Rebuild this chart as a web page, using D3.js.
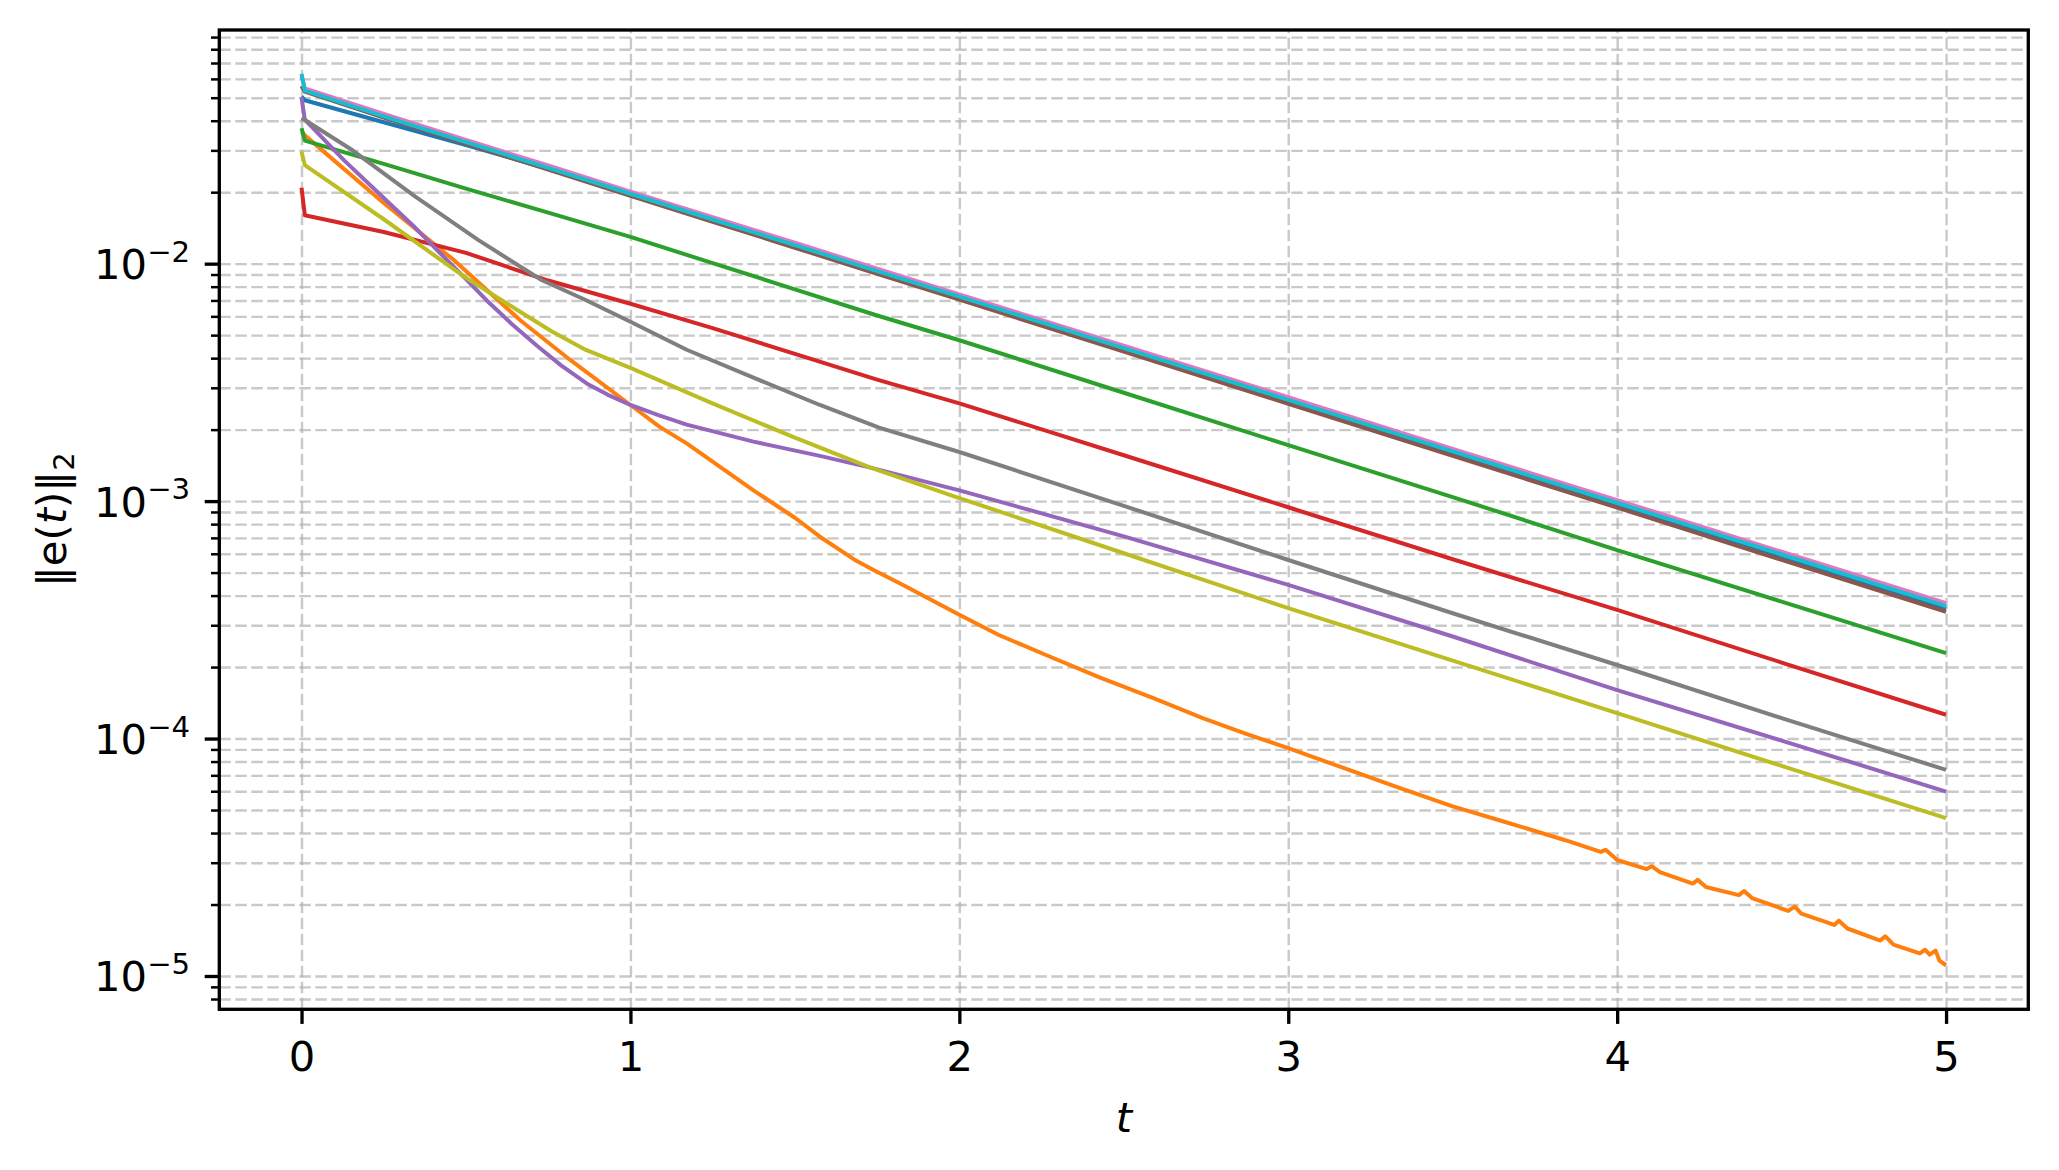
<!DOCTYPE html>
<html><head><meta charset="utf-8">
<script src="https://cdn.jsdelivr.net/npm/d3@7"></script>
<style>
body{margin:0;background:#fff;}
svg{display:block;}
text{font-family:"DejaVu Sans",sans-serif;fill:#000;}
</style>
</head><body>
<svg id="chart" width="2059" height="1170"></svg>
<script>
// ---- data ----
const tGrid = [0, 0.01, 0.25, 0.5, 0.75, 1, 1.25, 1.5, 1.75, 2, 2.5, 3, 3.5, 4, 4.5, 5];

const seriesBlue   = [0.0505, 0.0488, 0.0394, 0.0316, 0.0251, 0.0195, 0.01517, 0.0118, 0.00918, 0.00714, 0.00433, 0.00262, 0.00158, 9.59e-4, 5.81e-4, 3.52e-4];
const seriesGreen  = [0.0372, 0.0330, 0.0263, 0.0207, 0.0164, 0.01297, 0.01005, 0.0078, 0.00605, 0.00476, 0.00286, 0.00172, 0.00104, 6.22e-4, 3.77e-4, 2.29e-4];
const seriesRed    = [0.0209, 0.0160, 0.0136, 0.0111, 0.00849, 0.00678, 0.00535, 0.00417, 0.00325, 0.00258, 0.00156, 9.42e-4, 5.69e-4, 3.48e-4, 2.09e-4, 1.26e-4];
const seriesBrown  = [0.056, 0.0530, 0.0412, 0.0320, 0.0249, 0.0193, 0.0150, 0.01167, 0.00907, 0.00705, 0.00426, 0.00257, 0.00155, 9.38e-4, 5.66e-4, 3.42e-4];
const seriesPink   = [0.062, 0.0547, 0.0427, 0.0332, 0.0259, 0.0201, 0.0157, 0.01225, 0.00953, 0.00743, 0.00451, 0.00274, 0.00166, 0.00101, 6.12e-4, 3.72e-4];
const seriesCyan   = [0.063, 0.0536, 0.0417, 0.0325, 0.0253, 0.0197, 0.01535, 0.01197, 0.00931, 0.00726, 0.00441, 0.00267, 0.00162, 9.82e-4, 5.96e-4, 3.61e-4];

const tPurple = [0, 0.01, 0.128, 0.25, 0.346, 0.421, 0.5, 0.563, 0.64, 0.715, 0.79, 0.867, 0.93, 1.0, 1.085, 1.171, 1.374, 1.576, 1.73, 2.0, 2.5, 3, 3.5, 4, 4.5, 5];
const seriesPurple = [0.0502, 0.0404, 0.02735, 0.0189, 0.01416, 0.01109, 0.00861, 0.0070, 0.00556, 0.00452, 0.00372, 0.00313, 0.00281, 0.00254, 0.0023, 0.0021, 0.00178, 0.00155, 0.001384, 0.00111, 7.1e-4, 4.44e-4, 2.69e-4, 1.60e-4, 9.8e-5, 5.98e-5];

const tGray = [0, 0.01, 0.154, 0.346, 0.538, 0.731, 0.859, 1.0, 1.171, 1.374, 1.576, 1.756, 2.0, 2.5, 3, 3.5, 4, 4.5, 5];
const seriesGray = [0.0410, 0.0403, 0.0301, 0.01914, 0.01256, 0.00851, 0.00708, 0.00569, 0.00434, 0.00331, 0.00254, 0.00204, 0.00161, 9.55e-4, 5.65e-4, 3.37e-4, 2.04e-4, 1.22e-4, 7.38e-5];

const tOlive = [0, 0.01, 0.25, 0.5, 0.667, 0.76, 0.859, 1.0, 1.244, 1.5, 1.73, 2.0, 2.5, 3, 3.5, 4, 4.5, 5];
const seriesOlive = [0.0296, 0.0260, 0.01538, 0.00871, 0.00624, 0.00519, 0.00437, 0.00364, 0.0026, 0.00185, 0.001384, 0.00103, 6.03e-4, 3.54e-4, 2.13e-4, 1.28e-4, 7.67e-5, 4.62e-5];

const tOrange = [0, 0.01, 0.25, 0.462, 0.664, 0.816, 1.0, 1.09, 1.171, 1.374, 1.5, 1.576, 1.68, 1.739, 1.82, 2.0, 2.12, 2.276, 2.43, 2.59, 2.74, 2.87, 3.0, 3.17, 3.34, 3.5, 3.67, 3.84, 3.95, 3.965, 4.0, 4.09, 4.105, 4.13, 4.23, 4.245, 4.27, 4.37, 4.386, 4.41, 4.52, 4.54, 4.56, 4.66, 4.674, 4.70, 4.80, 4.815, 4.84, 4.92, 4.936, 4.95, 4.968, 4.98, 5.0];
const seriesOrange = [0.0360, 0.0347, 0.0180, 0.01038, 0.00579, 0.00394, 0.00254, 0.00205, 0.00175, 0.00111, 8.51e-4, 7.08e-4, 5.68e-4, 5.13e-4, 4.50e-4, 3.32e-4, 2.73e-4, 2.21e-4, 1.80e-4, 1.48e-4, 1.22e-4, 1.05e-4, 9.12e-5, 7.50e-5, 6.18e-5, 5.18e-5, 4.41e-5, 3.74e-5, 3.33e-5, 3.40e-5, 3.08e-5, 2.82e-5, 2.90e-5, 2.74e-5, 2.45e-5, 2.54e-5, 2.37e-5, 2.19e-5, 2.28e-5, 2.13e-5, 1.88e-5, 1.96e-5, 1.83e-5, 1.64e-5, 1.71e-5, 1.585e-5, 1.41e-5, 1.47e-5, 1.355e-5, 1.245e-5, 1.29e-5, 1.23e-5, 1.28e-5, 1.16e-5, 1.11e-5];

const xTicks = [0, 1, 2, 3, 4, 5];
const yMajorTicks = [1e-5, 1e-4, 1e-3, 1e-2];
const yTickExponents = ["\u22125", "\u22124", "\u22123", "\u22122"];
const yMinorTicks = [8e-6, 9e-6,
  2e-5, 3e-5, 4e-5, 5e-5, 6e-5, 7e-5, 8e-5, 9e-5,
  2e-4, 3e-4, 4e-4, 5e-4, 6e-4, 7e-4, 8e-4, 9e-4,
  2e-3, 3e-3, 4e-3, 5e-3, 6e-3, 7e-3, 8e-3, 9e-3,
  2e-2, 3e-2, 4e-2, 5e-2, 6e-2, 7e-2, 8e-2, 9e-2];

const palette = ["#1f77b4", "#ff7f0e", "#2ca02c", "#d62728", "#9467bd", "#8c564b", "#e377c2", "#7f7f7f", "#bcbd22", "#17becf"];

// draw order C0..C9
const seriesList = [
  {t: tGrid, v: seriesBlue},
  {t: tOrange, v: seriesOrange},
  {t: tGrid, v: seriesGreen},
  {t: tGrid, v: seriesRed},
  {t: tPurple, v: seriesPurple},
  {t: tGrid, v: seriesBrown},
  {t: tGrid, v: seriesPink},
  {t: tGray, v: seriesGray},
  {t: tOlive, v: seriesOlive},
  {t: tGrid, v: seriesCyan}
];

// ---- layout ----
const L = 219.3, R = 2028.3, T = 30, B = 1009.3;
const FS = 41.67;
const svg = d3.select("#chart");
svg.append("rect").attr("width", 2059).attr("height", 1170).attr("fill", "#fff");

const x = d3.scaleLinear().domain([-0.25, 5.25]).range([L, R]);
const y = d3.scaleLog().domain([7.24e-6, 0.0964]).range([B, T]);

// ---- grid ----
const gridStyle = g => {
  g.select(".domain").remove();
  g.selectAll("line").attr("stroke", "#b0b0b0").attr("stroke-opacity", 0.68)
    .attr("stroke-width", 2.4).attr("stroke-dasharray", "11.5 4.5");
  g.selectAll("text").remove();
};
svg.append("g").attr("transform", `translate(${L},0)`)
  .call(d3.axisLeft(y).tickValues(yMinorTicks.concat(yMajorTicks)).tickSize(-(R - L)).tickFormat(""))
  .call(gridStyle);
svg.append("g").attr("transform", `translate(0,${B})`)
  .call(d3.axisBottom(x).tickValues(xTicks).tickSize(-(B - T)).tickFormat(""))
  .call(gridStyle);

// ---- lines ----
svg.append("clipPath").attr("id", "clip").append("rect")
  .attr("x", L).attr("y", T).attr("width", R - L).attr("height", B - T);
const lineGen = d3.line().x(d => x(d[0])).y(d => y(d[1]));
const gLines = svg.append("g").attr("clip-path", "url(#clip)");
seriesList.forEach((s, i) => {
  const pts = s.t.map((tv, k) => [tv, s.v[k]]);
  gLines.append("path").datum(pts)
    .attr("d", lineGen)
    .attr("fill", "none")
    .attr("stroke", palette[i])
    .attr("stroke-width", 4.0)
    .attr("stroke-linejoin", "round")
    .attr("stroke-linecap", "butt");
});

// ---- spines ----
svg.append("rect").attr("x", L).attr("y", T).attr("width", R - L).attr("height", B - T)
  .attr("fill", "none").attr("stroke", "#000").attr("stroke-width", 3.33);

// ---- ticks ----
const tickStyle = (g, w) => {
  g.select(".domain").remove();
  g.selectAll("line").attr("stroke", "#000").attr("stroke-width", w);
};
// x major
const gx = svg.append("g").attr("transform", `translate(0,${B})`)
  .call(d3.axisBottom(x).tickValues(xTicks).tickSizeInner(14.6).tickSizeOuter(0).tickPadding(14.6).tickFormat(d3.format("d")));
tickStyle(gx, 3.33);
gx.selectAll("text").attr("font-size", FS).attr("dy", "0.78em")
  .attr("font-family", "DejaVu Sans, sans-serif").attr("fill", "#000");

// y minor
const gym = svg.append("g").attr("transform", `translate(${L},0)`)
  .call(d3.axisLeft(y).tickValues(yMinorTicks).tickSizeInner(8.3).tickSizeOuter(0).tickFormat(""));
tickStyle(gym, 2.5);
gym.selectAll("text").remove();

// y major
const gy = svg.append("g").attr("transform", `translate(${L},0)`)
  .call(d3.axisLeft(y).tickValues(yMajorTicks).tickSizeInner(14.6).tickSizeOuter(0).tickPadding(14.6).tickFormat(""));
tickStyle(gy, 3.33);
gy.selectAll(".tick text").each(function(d, i) {
  const t = d3.select(this);
  t.text(null).attr("dy", null).attr("y", 15).attr("font-size", FS)
    .attr("text-anchor", "end").attr("font-family", "DejaVu Sans, sans-serif").attr("fill", "#000");
  t.append("tspan").text("10");
  t.append("tspan").attr("font-size", FS * 0.7).attr("dy", -17.5).text(yTickExponents[i]);
});

// ---- axis labels ----
const xl = svg.append("text").attr("x", (L + R) / 2).attr("y", 1132)
  .attr("text-anchor", "middle").attr("font-size", FS);
xl.append("tspan").attr("font-style", "italic").text("t");

const yl = svg.append("text")
  .attr("transform", `translate(66,${(T + B) / 2}) rotate(-90)`)
  .attr("text-anchor", "middle").attr("font-size", FS);
yl.append("tspan").text("\u2016e(");
yl.append("tspan").attr("font-style", "italic").text("t");
yl.append("tspan").text(")\u2016");
yl.append("tspan").attr("font-size", FS * 0.7).attr("dy", 8).text("2");
</script>
</body></html>
